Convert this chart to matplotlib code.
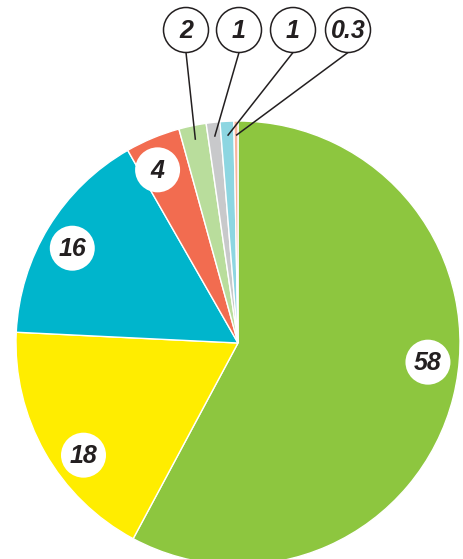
import numpy as np
import matplotlib
matplotlib.use("Agg")
import matplotlib.pyplot as plt
from matplotlib.patches import Circle

# Share values, clockwise from 12 o'clock
labels = ["58", "18", "16", "4", "2", "1", "1", "0.3"]
values = [58, 18, 16, 4, 2, 1, 1, 0.3]
colors = ["#8dc63f", "#ffed00", "#00b5cc", "#f26c50",
          "#b9dd9c", "#c8c9cb", "#8dd6e1", "#f9b49d"]

W, H = 463, 559
fig = plt.figure(figsize=(W / 100, H / 100), dpi=100)
ax = fig.add_axes([0, 0, 1, 1])
ax.set_xlim(0, W)
ax.set_ylim(0, H)
ax.set_aspect("equal")
ax.axis("off")

cx, cy, R = 238, H - 343, 222
wedges, _ = ax.pie(values, colors=colors, startangle=90, counterclock=False,
                   radius=R, center=(cx, cy),
                   wedgeprops=dict(edgecolor="white", linewidth=1.0))
ax.set_xlim(0, W)
ax.set_ylim(0, H)

font = dict(family=["Liberation Sans", "DejaVu Sans"], weight="bold",
            style="italic", size=18, color="#231f20")

def point_at(w, frac, r):
    a = np.deg2rad(w.theta1 + (w.theta2 - w.theta1) * frac)
    return cx + r * np.cos(a), cy + r * np.sin(a)

# Large slices: white discs inside the wedge
inner_frac = [0.54, 0.60, 0.53, 0.66]
for w, lab, f in zip(wedges[:4], labels[:4], inner_frac):
    x, y = point_at(w, f, 0.86 * R)
    ax.add_patch(Circle((x, y), 22.5, facecolor="white", edgecolor="none", zorder=3))
    ax.text(x, y - 1, lab, ha="center", va="center", zorder=4, **font)

# Small slices: outlined discs above the pie with leader lines
top_x = [186, 239, 293, 348]
top_y = H - 30
rc = 22.5
for w, lab, tx in zip(wedges[4:], labels[4:], top_x):
    ex, ey = point_at(w, 0.5, 0.935 * R)
    ax.plot([tx, ex], [top_y - rc, ey], color="#231f20", lw=1.1, zorder=3,
            solid_capstyle="butt")
    ax.add_patch(Circle((tx, top_y), rc, facecolor="white", edgecolor="#231f20",
                        lw=1.1, zorder=3))
    ax.text(tx, top_y - 1, lab, ha="center", va="center", zorder=4, **font)

fig.savefig("out.png", dpi=100)
